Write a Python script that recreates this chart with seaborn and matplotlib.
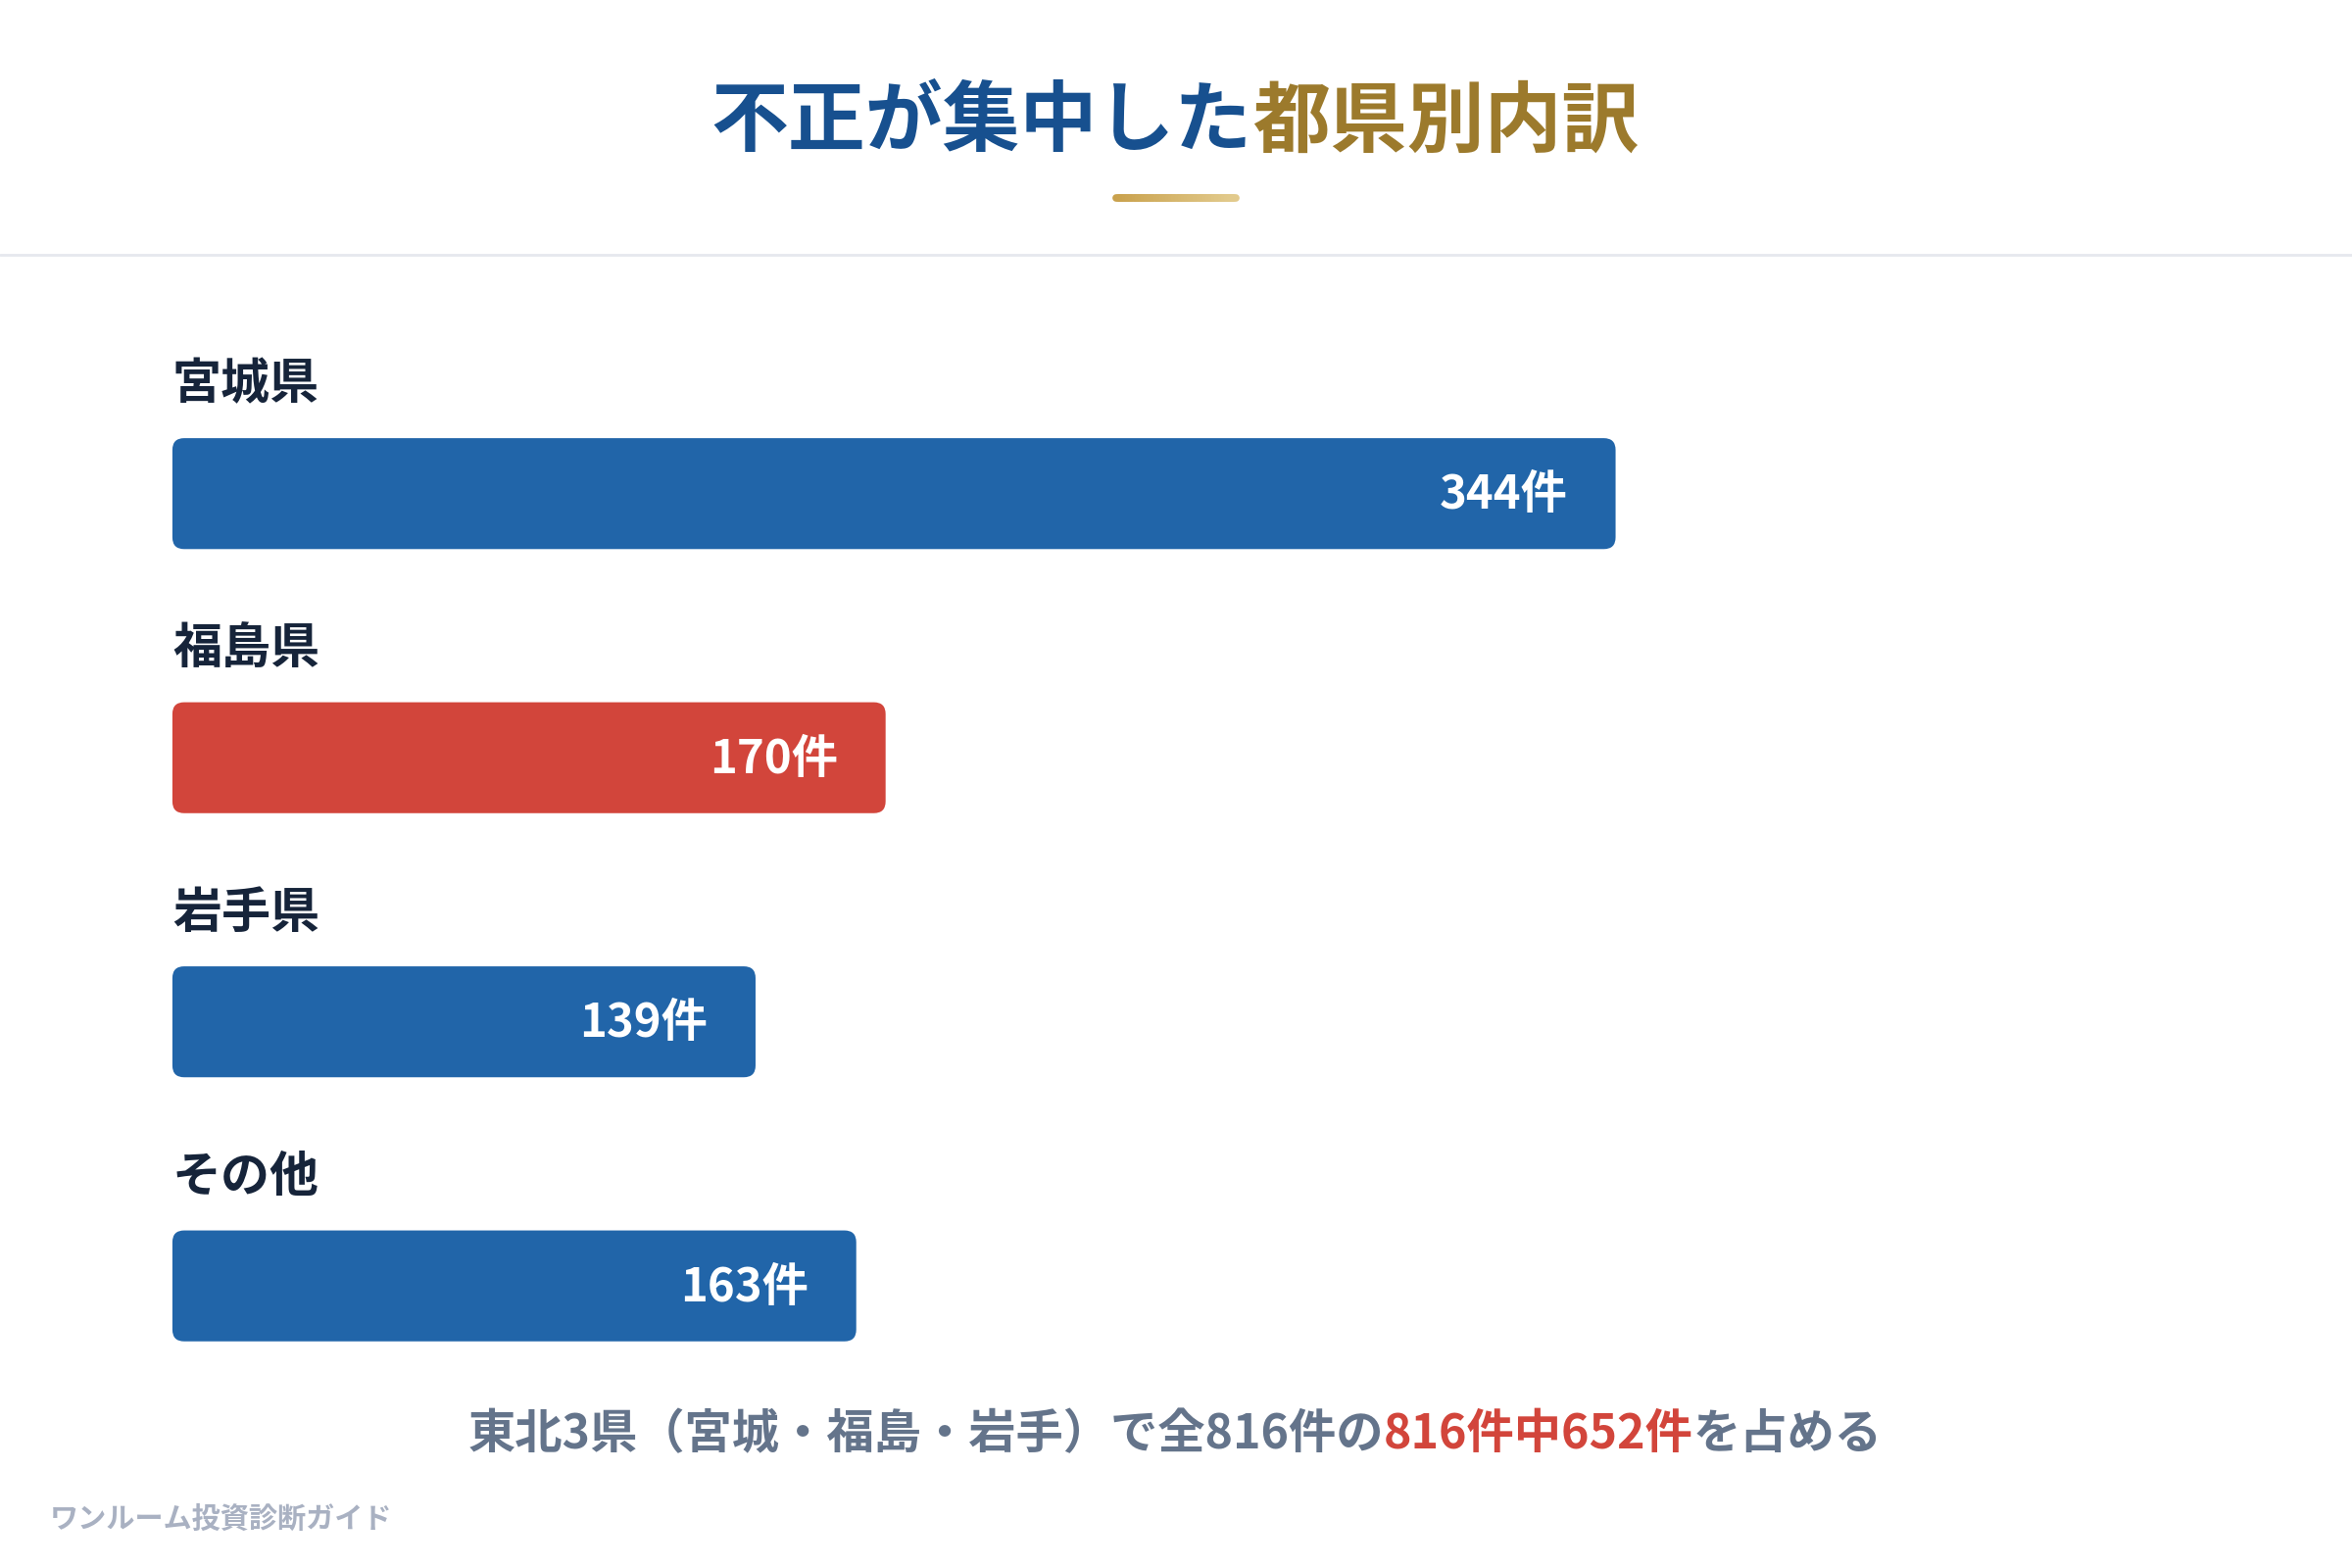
import numpy as np
import pandas as pd
import matplotlib.pyplot as plt
import seaborn as sns
from matplotlib.patches import FancyBboxPatch
from matplotlib.collections import LineCollection
from matplotlib.colors import LinearSegmentedColormap

# データ
prefectures = ["宮城県", "福島県", "岩手県", "その他"]
counts = [344, 170, 139, 163]
highlight = ["福島県"]
value_suffix = "件"

title_main = "不正が集中した"
title_accent = "都県別内訳"
footer_parts = ["東北3県（宮城・福島・岩手）で全816件の", "816件中652件", "を占める"]
watermark = "ワンルーム投資診断ガイド"

BLUE = "#2165a9"
RED = "#d2453b"
NAVY = "#16243a"
SLATE = "#64748b"
GOLD = "#9c7a2c"

sns.set_theme(style="white")
plt.rcParams["font.family"] = ["Noto Sans CJK JP", "DejaVu Sans"]

df = pd.DataFrame({"pref": prefectures, "count": counts})
palette = {p: (RED if p in highlight else BLUE) for p in prefectures}

fig = plt.figure(figsize=(12, 8), dpi=200)
fig.patch.set_facecolor("white")

# 棒グラフ領域
ax = fig.add_axes([0.0733, 0.0957, 0.6136, 0.6737])
sns.barplot(data=df, x="count", y="pref", hue="pref", palette=palette,
            order=prefectures, width=0.42, saturation=1, legend=False, ax=ax)
ax.set_xlim(0, max(counts))
ax.set_ylim(len(prefectures) - 0.5, -0.5)
ax.axis("off")

# 角丸に置き換え
fig.canvas.draw()
bb = ax.get_window_extent()
px_x = bb.width / (ax.get_xlim()[1] - ax.get_xlim()[0])
px_y = bb.height / abs(ax.get_ylim()[1] - ax.get_ylim()[0])
aspect = px_x / px_y
radius = 12 / px_x
for p in list(ax.patches):
    x, y = p.get_x(), p.get_y()
    w, h = p.get_width(), p.get_height()
    fc = p.get_facecolor()
    p.remove()
    ax.add_patch(FancyBboxPatch((x, y), w, h,
                                boxstyle=f"round,pad=0,rounding_size={radius}",
                                mutation_aspect=aspect, fc=fc, ec="none",
                                clip_on=False))

for i, (name, val) in enumerate(zip(prefectures, counts)):
    ax.text(0, i - 0.41, name, ha="left", va="center", fontsize=18,
            fontweight="bold", color=NAVY)
    ax.annotate(f"{val}{value_suffix}", xy=(val, i), xytext=(-17.5, -0.5),
                textcoords="offset points", ha="right", va="center",
                fontsize=17, fontweight="bold", color="white")

# タイトル
fig.text(0.5325, 0.9215, title_main, ha="right", va="center", fontsize=28.4,
         fontweight="bold", color="#17508f")
fig.text(0.5325, 0.9215, title_accent, ha="left", va="center", fontsize=28.4,
         fontweight="bold", color=GOLD)

# 金色の下線（グラデーション）
gx = np.linspace(0.4745, 0.5255, 40)
gy = np.full_like(gx, 1 - 132 / 1045)
segs = [[(gx[k], gy[k]), (gx[k + 1], gy[k + 1])] for k in range(len(gx) - 1)]
gold_cmap = LinearSegmentedColormap.from_list("gold", ["#c9a14c", "#e2ca8c"])
lc = LineCollection(segs, colors=gold_cmap(np.linspace(0, 1, len(segs))),
                    linewidths=2.8, capstyle="round", transform=fig.transFigure)
fig.add_artist(lc)

# 区切り線
fig.add_artist(plt.Line2D([0, 1], [1 - 170 / 1045] * 2, color="#e6e8ee",
                          lw=1.0, transform=fig.transFigure))

# フッター（色分け）
renderer = fig.canvas.get_renderer()
fcolors = [SLATE, RED, SLATE]
ftexts = [fig.text(0, 0.0852, s, ha="left", va="center", fontsize=17.4,
                   fontweight="bold", color=c)
          for s, c in zip(footer_parts, fcolors)]
widths = [t.get_window_extent(renderer).width for t in ftexts]
total = sum(widths)
x0 = 0.4997 * fig.bbox.width - total / 2
for t, w in zip(ftexts, widths):
    t.set_x(x0 / fig.bbox.width)
    x0 += w

fig.text(0.021, 1 - 1012 / 1045, watermark, ha="left", va="center",
         fontsize=10.5, fontweight="bold", color="#a9b1c2")

fig.savefig("out.png", dpi=200, facecolor="white")
